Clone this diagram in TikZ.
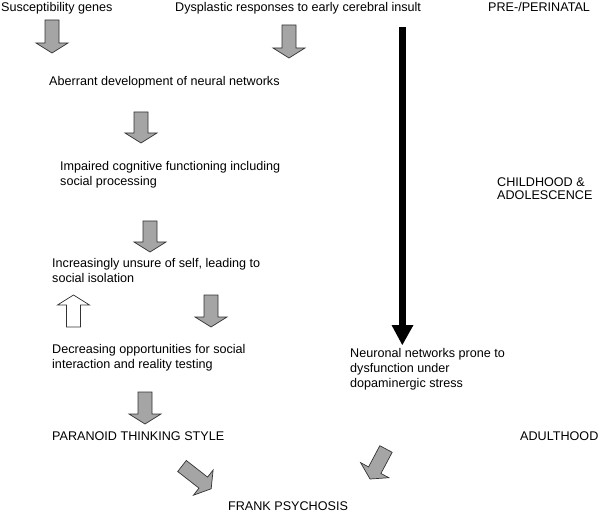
\documentclass[tikz,border=0pt]{standalone}
\usepackage{fontspec}
\setmainfont{Liberation Sans}
\definecolor{arrowgray}{RGB}{165,165,165}
\newcommand{\blockarr}[5]{%
  \begin{scope}[shift={(#2,-#3)}, rotate=#4]
    \draw[arrowline, fill=#1] (0,-7) -- (#5-10,-7) -- (#5-10,-16) -- (#5,0) -- (#5-10,16) -- (#5-10,7) -- (0,7) -- cycle;
  \end{scope}}
\begin{document}
\begin{tikzpicture}[x=1pt,y=1pt,
  arrowline/.style={draw=black!80, line width=0.7pt, line join=miter},
  lbl/.style={anchor=base west, inner sep=0pt, align=left, font=\fontsize{12.6}{15}\selectfont},
  phase/.style={anchor=base west, inner sep=0pt, align=left, font=\fontsize{12.6}{12.3}\selectfont}]
\useasboundingbox (0,0) rectangle (600,-513);
% texts (base anchor = baseline of last line)
\node[lbl] (genes) at (1,-12) {Susceptibility genes};
\node[lbl] (dysp) at (175,-12) {Dysplastic responses to early cerebral insult};
\node[lbl] (pre) at (488,-12) {PRE-/PERINATAL};
\node[lbl] (aber) at (49,-86) {Aberrant development of neural networks};
\node[lbl] (imp) at (60,-186) {Impaired cognitive functioning including\\social processing};
\node[phase] (child) at (497,-199.3) {CHILDHOOD \&\\ADOLESCENCE};
\node[lbl] (unsure) at (52,-283) {Increasingly unsure of self, leading to\\social isolation};
\node[lbl] (decr) at (52,-368) {Decreasing opportunities for social\\interaction and reality testing};
\node[lbl] (neur) at (350,-387) {Neuronal networks prone to\\dysfunction under\\dopaminergic stress};
\node[lbl] (para) at (52,-440) {PARANOID THINKING STYLE};
\node[lbl] (adult) at (520,-440) {ADULTHOOD};
\node[lbl] (frank) at (228,-510) {FRANK PSYCHOSIS};
% block arrows
\blockarr{arrowgray}{52}{20}{-90}{33}
\blockarr{arrowgray}{289}{25}{-90}{33}
\blockarr{arrowgray}{141}{112}{-90}{31}
\blockarr{arrowgray}{150}{221}{-90}{31}
\blockarr{white}{73.5}{327}{90}{32}
\blockarr{arrowgray}{211}{295}{-90}{32}
\blockarr{arrowgray}{145}{392}{-90}{32}
\blockarr{arrowgray}{182}{466}{-38}{37}
\blockarr{arrowgray}{386}{449}{-118}{34}
% black arrow
\fill[black] (399,-27) rectangle (405.5,-326);
\fill[black] (391.5,-325) -- (413.5,-325) -- (402.3,-345) -- cycle;
\end{tikzpicture}
\end{document}
